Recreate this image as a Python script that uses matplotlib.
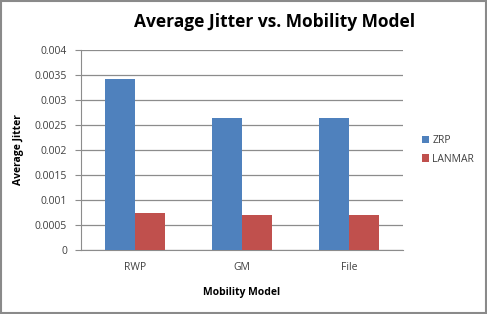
import matplotlib
matplotlib.use("Agg")
import matplotlib.pyplot as plt
from matplotlib.patches import Rectangle
import numpy as np

# data
models = ["RWP", "GM", "File"]
zrp = [0.00342, 0.00264, 0.00264]
lanmar = [0.00074, 0.00071, 0.00071]
y_ticks = [0, 0.0005, 0.001, 0.0015, 0.002, 0.0025, 0.003, 0.0035, 0.004]
y_labels = ["0", "0.0005", "0.001", "0.0015", "0.002", "0.0025", "0.003", "0.0035", "0.004"]

blue = "#4F81BD"
red = "#C0504D"
grid_c = "#8C8C8C"
text_c = "#404040"

plt.rcParams['font.family'] = ['Open Sans', 'DejaVu Sans']

fig = plt.figure(figsize=(4.87, 3.14), dpi=100)
fig.patches.append(Rectangle((0.002, 0.003), 0.995, 0.993, transform=fig.transFigure,
                             fill=False, edgecolor="#8A8A8A", linewidth=1.5))

ax = fig.add_axes([81 / 487, 1 - 250 / 314, 322 / 487, 200 / 314])

x = np.arange(len(models))
w = 0.28
ax.bar(x - w / 2, zrp, w, color=blue, label="ZRP", zorder=3)
ax.bar(x + w / 2, lanmar, w, color=red, label="LANMAR", zorder=3)

ax.set_xlim(-0.5, 2.5)
ax.set_ylim(0, 0.004)
ax.set_yticks(y_ticks)
ax.set_yticklabels(y_labels)
ax.set_xticks(x)
ax.set_xticklabels(models)
ax.yaxis.grid(True, color=grid_c, linewidth=0.9, zorder=0)
ax.set_axisbelow(True)

for s in ["top", "right"]:
    ax.spines[s].set_visible(False)
ax.spines["left"].set_color(grid_c)
ax.spines["bottom"].set_color(grid_c)
ax.tick_params(axis="y", length=4, color=grid_c, labelsize=7.5, labelcolor=text_c, pad=6)
ax.tick_params(axis="x", length=0, labelsize=7.5, labelcolor=text_c, pad=9)

ax.set_ylabel("Average Jitter", fontsize=7.5, fontweight="bold", labelpad=8)
ax.set_xlabel("Mobility Model", fontsize=7.5, fontweight="bold", labelpad=10)

fig.text(275 / 487, 1 - 22 / 314, "Average Jitter vs. Mobility Model",
         ha="center", va="center", fontsize=12.5, fontweight="bold")

ax.legend(loc="center left", bbox_to_anchor=(1.03, 0.5), frameon=False,
          fontsize=7.5, handlelength=0.7, handleheight=0.7, handletextpad=0.3,
          labelspacing=0.7, labelcolor=text_c)

fig.savefig("out.png", dpi=100)
